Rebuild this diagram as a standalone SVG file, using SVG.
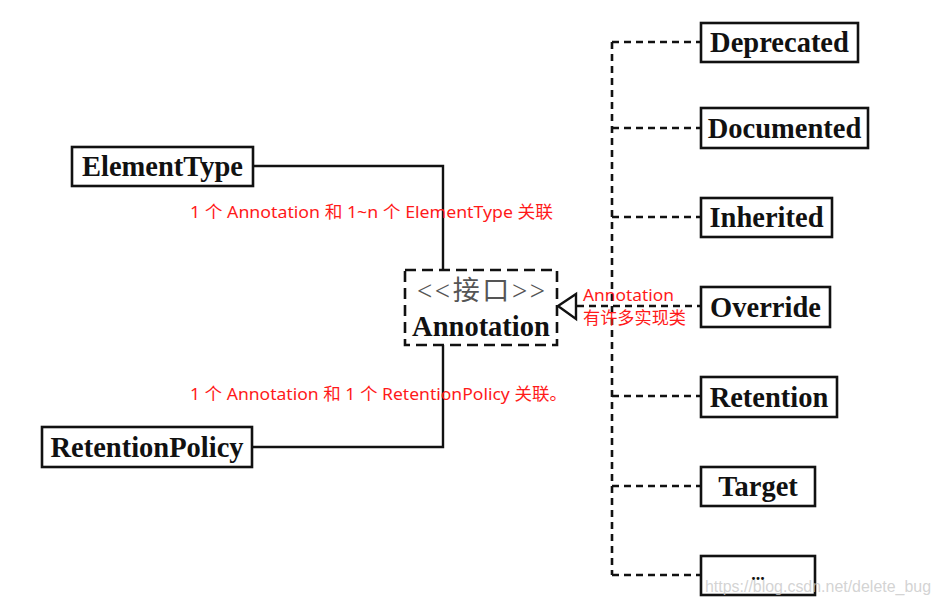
<svg xmlns="http://www.w3.org/2000/svg" width="940" height="604" viewBox="0 0 940 604">
<style>
.box{fill:#fff;stroke:#111;stroke-width:2.6}
.lbl{font-family:"Liberation Serif","Times New Roman",serif;font-weight:bold;font-size:28.5px;fill:#111;text-anchor:middle}
.solid{fill:none;stroke:#111;stroke-width:2.4}
.dash{fill:none;stroke:#111;stroke-width:2.6;stroke-dasharray:7 5}
.red{font-family:"Microsoft YaHei","Noto Sans","Noto Sans CJK SC",sans-serif;font-size:17px;fill:#ff1a1a}
</style>
<rect width="940" height="604" fill="#fff"/>
<g id="connectors">
<polyline class="solid" points="253,166 443,166 443,270"/>
<polyline class="solid" points="253,447 443,447 443,345"/>
<line class="dash" x1="612" y1="42" x2="612" y2="575"/>
<line class="dash" x1="612" y1="42" x2="701" y2="42"/>
<line class="dash" x1="612" y1="128" x2="701" y2="128"/>
<line class="dash" x1="612" y1="217" x2="701" y2="217"/>
<line class="dash" x1="577" y1="306" x2="701" y2="306"/>
<line class="dash" x1="612" y1="396" x2="701" y2="396"/>
<line class="dash" x1="612" y1="486" x2="701" y2="486"/>
<line class="dash" x1="612" y1="575" x2="701" y2="575"/>
<polygon points="558,306 576,294 576,319" fill="#fff" stroke="#111" stroke-width="2.4"/>
</g>
<g id="ElementType">
<rect class="box" x="72" y="147" width="181" height="39"/>
<text class="lbl" x="162.5" y="176">ElementType</text>
</g>
<g id="RetentionPolicy">
<rect class="box" x="42" y="427" width="210" height="40"/>
<text class="lbl" x="147" y="457">RetentionPolicy</text>
</g>
<g id="Annotation">
<rect x="405" y="270" width="152" height="75" fill="#fff" stroke="#111" stroke-width="2.6" stroke-dasharray="11 6"/>
<text x="481" y="300" font-family="'Liberation Serif','Noto Sans CJK SC',serif" font-size="27" fill="#555" text-anchor="middle" textLength="128" lengthAdjust="spacing">&lt;&lt;接口&gt;&gt;</text>
<text class="lbl" x="481" y="336">Annotation</text>
</g>
<g id="Deprecated">
<rect class="box" x="701" y="23" width="157" height="39"/>
<text class="lbl" x="779.5" y="52">Deprecated</text>
</g>
<g id="Documented">
<rect class="box" x="701" y="108" width="167" height="40"/>
<text class="lbl" x="784.5" y="138">Documented</text>
</g>
<g id="Inherited">
<rect class="box" x="701" y="198" width="131" height="39"/>
<text class="lbl" x="766.5" y="227">Inherited</text>
</g>
<g id="Override">
<rect class="box" x="701" y="287" width="129" height="40"/>
<text class="lbl" x="765.5" y="317">Override</text>
</g>
<g id="Retention">
<rect class="box" x="701" y="377" width="136" height="40"/>
<text class="lbl" x="769" y="407">Retention</text>
</g>
<g id="Target">
<rect class="box" x="701" y="467" width="114" height="39"/>
<text class="lbl" x="758" y="496">Target</text>
</g>
<g id="More">
<rect class="box" x="701" y="556" width="114" height="39"/>
<text x="758" y="580" font-family="'Liberation Serif',serif" font-weight="bold" font-size="18" fill="#111" text-anchor="middle">...</text>
</g>
<g id="labels">
<text class="red" x="190" y="218" textLength="363" lengthAdjust="spacingAndGlyphs">1 个 Annotation 和 1~n 个 ElementType 关联</text>
<text class="red" x="190" y="400" textLength="377" lengthAdjust="spacingAndGlyphs">1 个 Annotation 和 1 个 RetentionPolicy 关联。</text>
<text class="red" x="583" y="301" textLength="91" lengthAdjust="spacingAndGlyphs">Annotation</text>
<text class="red" x="583" y="324" textLength="103" lengthAdjust="spacingAndGlyphs">有许多实现类</text>
</g>
<text x="705" y="592" font-family="'Liberation Sans',Arial,sans-serif" font-size="17" fill="#c8c8c8" fill-opacity="0.8" textLength="226" lengthAdjust="spacingAndGlyphs">https://blog.csdn.net/delete_bug</text>
</svg>
